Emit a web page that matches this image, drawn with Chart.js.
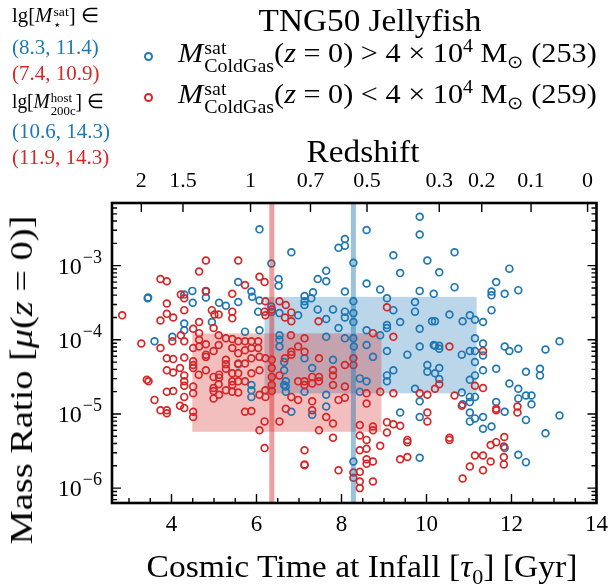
<!DOCTYPE html>
<html>
<head>
<meta charset="utf-8">
<script src="https://cdn.jsdelivr.net/npm/chart.js@4.4.0/dist/chart.umd.min.js"></script>
<style>
  body { margin: 0; background: #fff; }
  #wrap { position: relative; width: 616px; height: 585px; font-family: "Liberation Serif", serif; color: #000; overflow: hidden; }
  #grafico { position: absolute; left: 0; top: 0; }
  .c { position: absolute; white-space: nowrap; line-height: 1; }
  .l { position: absolute; white-space: nowrap; line-height: 1; transform-origin: left center; }
  .ss { display: inline-flex; flex-direction: column; align-items: flex-start; font-size: 0.66em; line-height: 0.95; vertical-align: 0.42em; margin-left: 1px; }
  sup, sub { font-size: 0.66em; line-height: 0; }
  .azul { color: #1f77b4; }
  .verm { color: #d62728; }
  .marca { position: absolute; width: 9px; height: 9px; border-radius: 50%; box-sizing: border-box; border: 2px solid; }
</style>
</head>
<body>
<div id="wrap">
  <canvas id="grafico" width="616" height="585"></canvas>

  <div class="c" style="left:370px; top:20px; font-size:32px; transform: translate(-50%, -50%) scaleX(1.04);">TNG50 Jellyfish</div>

  <div class="marca" style="left:144px; top:52px; border-color:#1f77b4;"></div>
  <div class="l" style="left:178px; top:57px; font-size:28px; transform: translateY(-50%) scaleX(1.08);"><i>M</i><span class="ss"><span>sat</span><span>ColdGas</span></span>(<i>z</i> = 0) &gt; 4 × 10<sup>4</sup> M<sub>⊙</sub> (253)</div>
  <div class="marca" style="left:144px; top:93px; border-color:#d62728;"></div>
  <div class="l" style="left:178px; top:98px; font-size:28px; transform: translateY(-50%) scaleX(1.08);"><i>M</i><span class="ss"><span>sat</span><span>ColdGas</span></span>(<i>z</i> = 0) &lt; 4 × 10<sup>4</sup> M<sub>⊙</sub> (259)</div>

  <div class="l" style="left:12px; top:18px; font-size:20px; transform: translateY(-50%) scaleX(1.04);">lg[<i>M</i><span class="ss"><span>sat</span><span>⋆</span></span>] ∈</div>
  <div class="l azul" style="left:12px; top:47px; font-size:20px; transform: translateY(-50%) scaleX(1.05);">(8.3, 11.4)</div>
  <div class="l verm" style="left:12px; top:73px; font-size:20px; transform: translateY(-50%) scaleX(1.05);">(7.4, 10.9)</div>
  <div class="l" style="left:12px; top:104px; font-size:20px; transform: translateY(-50%) scaleX(0.97);">lg[<i>M</i><span class="ss"><span>host</span><span>200c</span></span>] ∈</div>
  <div class="l azul" style="left:12px; top:131px; font-size:20px; transform: translateY(-50%) scaleX(1.05);">(10.6, 14.3)</div>
  <div class="l verm" style="left:12px; top:157px; font-size:20px; transform: translateY(-50%) scaleX(1.05);">(11.9, 14.3)</div>

  <div class="c" style="left:363px; top:151px; font-size:32px; transform: translate(-50%, -50%) scaleX(1.04);">Redshift</div>
  <div class="c" style="left:362px; top:566px; font-size:32px; transform: translate(-50%, -50%) scaleX(1.05);">Cosmic Time at Infall [<i>τ</i><sub>0</sub>] [Gyr]</div>
  <div class="c" style="left:21px; top:380px; font-size:32px; transform: translate(-50%, -50%) rotate(-90deg) scaleX(1.2);">Mass Ratio [<i>μ</i>(<i>z</i> = 0)]</div>
</div>

<script>
// eixos
const xMin = 2.6, xMax = 14;
const yMin = 6.3e-7, yMax = 7e-3;
const xTickValues = [4, 6, 8, 10, 12, 14];
const yTickValues = [1e-6, 1e-5, 1e-4, 1e-3];
const yTickExponents = ["−6", "−5", "−4", "−3"];
const redshiftLabels = ["2", "1.5", "1", "0.7", "0.5", "0.3", "0.2", "0.1", "0"];
const redshiftTimes = [3.29, 4.27, 5.86, 7.27, 8.6, 10.3, 11.3, 12.46, 13.79];

// [tempo de infall (Gyr), lg(mu)]
const bluePoints = [
  [6.07,-2.51],[6.35,-2.97],[6.52,-3.18],[6.52,-3.27],[5.57,-3.22],[4.49,-3.34],[4.81,-3.35],[4.81,-3.43],
  [3.44,-3.44],[3.45,-3.43],[4.30,-3.39],[4.50,-3.50],[5.12,-3.50],[5.28,-3.54],[5.57,-3.49],[5.88,-3.35],
  [5.90,-3.42],[6.07,-3.47],[6.04,-3.62],[6.35,-3.55],[6.36,-3.62],[6.54,-3.64],[4.30,-3.78],[4.95,-3.76],
  [9.84,-2.34],[8.59,-2.52],[9.84,-2.58],[8.08,-2.64],[7.93,-2.76],[8.08,-2.73],[6.82,-2.82],[9.22,-2.86],
  [10.02,-2.93],[8.28,-2.96],[7.64,-3.07],[7.44,-3.18],[7.64,-3.21],[9.38,-3.10],[8.59,-3.24],[8.91,-3.32],
  [8.08,-3.35],[9.84,-3.34],[10.17,-3.38],[9.07,-3.44],[7.13,-3.41],[7.13,-3.48],[7.13,-3.53],[7.33,-3.36],
  [7.29,-3.44],[8.28,-3.48],[8.28,-3.64],[8.08,-3.62],[7.44,-3.59],[7.80,-3.59],[9.73,-3.49],[9.73,-3.62],
  [9.22,-3.60],[7.64,-3.72],[8.08,-3.70],[8.28,-3.76],[9.07,-3.80],[9.38,-3.76],[10.13,-3.75],[6.98,-3.67],
  [10.66,-2.82],[10.30,-3.09],[11.95,-3.04],[11.64,-3.22],[11.53,-3.35],[11.53,-3.40],[11.84,-3.38],[12.16,-3.33],
  [10.66,-3.29],[11.53,-3.60],[10.54,-3.66],[10.20,-3.75],[10.85,-3.75],[11.02,-3.67],[11.14,-3.73],[11.33,-3.76],
  [3.60,-4.02],[4.02,-3.96],[4.30,-3.87],[5.73,-3.89],[6.07,-3.87],[5.57,-4.33],[5.88,-4.61],[5.88,-4.68],
  [5.88,-4.77],[6.54,-4.00],[6.54,-4.09],[6.54,-3.94],[6.65,-4.30],[6.65,-4.41],[6.65,-4.61],
  [7.93,-3.84],[8.08,-3.98],[8.28,-3.98],[8.29,-4.09],[7.64,-3.96],[8.59,-3.87],[8.59,-4.07],[8.74,-4.23],
  [8.91,-3.94],[9.07,-3.84],[9.07,-4.15],[9.22,-4.41],[9.55,-4.20],[9.84,-3.85],[9.84,-4.09],[10.02,-4.34],
  [10.02,-4.43],[10.17,-4.07],[8.59,-4.56],[8.43,-4.52],[8.43,-4.70],[9.07,-4.48],[9.07,-4.56],[7.80,-4.27],
  [7.31,-4.38],[6.69,-4.56],[6.69,-4.63],[6.69,-4.70],[7.13,-4.70],[7.64,-4.74],[7.64,-4.90],[7.31,-5.01],
  [6.82,-4.97],[9.38,-4.98],[9.84,-5.04],[9.73,-4.66],[9.84,-4.83],[7.13,-4.25],
  [10.20,-4.08],[10.30,-4.08],[10.30,-4.12],[10.83,-4.20],[11.02,-4.15],[11.14,-3.98],[11.14,-4.15],[11.14,-4.30],
  [11.33,-4.05],[11.33,-4.21],[10.20,-4.45],[10.30,-4.38],[10.30,-4.53],[11.02,-4.54],[11.14,-4.48],[11.33,-4.41],
  [10.83,-4.71],[10.85,-4.87],[11.02,-4.77],[11.02,-4.84],[11.14,-4.77],[11.02,-4.98],[11.14,-5.06],[11.33,-5.04],
  [11.02,-5.10],[11.33,-5.20],[11.53,-5.17],[11.64,-4.39],[11.84,-4.09],[11.95,-4.15],[12.16,-4.12],[11.95,-4.59],
  [12.16,-4.66],[12.16,-4.79],[12.34,-4.75],[12.47,-4.75],[12.47,-4.87],[12.34,-5.08],[11.64,-4.84],[11.84,-4.97],
  [12.34,-4.43],[12.67,-4.39],[12.67,-4.48],[12.80,-4.13],[13.13,-4.02],[13.13,-5.02],[12.80,-5.26],
  [9.84,-5.59],[8.28,-5.64],[11.84,-5.46],[12.16,-5.55],[12.34,-5.65]
];

const redPoints = [
  [2.84,-3.67],[3.29,-4.05],[3.42,-4.54],
  [4.81,-2.93],[5.57,-2.93],[4.65,-3.08],[3.74,-3.18],[3.89,-3.21],[6.07,-3.15],[6.19,-3.22],[5.73,-3.26],
  [5.43,-3.38],[4.22,-3.39],[4.30,-3.44],[4.81,-3.34],[3.89,-3.51],[4.30,-3.60],[4.95,-3.60],[5.01,-3.66],
  [3.89,-3.65],[4.04,-3.70],[3.74,-3.74],[4.65,-3.76],[5.43,-3.62],[5.43,-3.71],[6.21,-3.48],[6.36,-3.59],
  [6.19,-3.62],[6.21,-3.67],[6.54,-3.48],[6.69,-3.53],[5.11,-3.66],
  [9.07,-3.56],[6.82,-3.63],[6.67,-3.70],[6.82,-3.75],[7.46,-3.75],
  [3.74,-4.11],[4.02,-4.02],[4.22,-3.94],[4.30,-4.02],[4.51,-3.85],[4.51,-4.11],[4.65,-3.91],[4.65,-4.00],
  [4.65,-4.09],[4.81,-4.06],[4.81,-4.20],[4.81,-4.23],[4.99,-3.84],[4.99,-4.15],[5.11,-3.94],[5.11,-4.07],
  [5.28,-3.98],[5.43,-3.99],[5.43,-4.11],[5.57,-4.02],[5.57,-4.18],[5.73,-4.02],[5.73,-4.14],[5.88,-4.02],
  [5.88,-4.11],[5.88,-4.25],[6.04,-4.02],[6.04,-4.11],[6.07,-4.23],[5.57,-4.32],[5.73,-4.32],
  [3.89,-4.25],[4.04,-4.26],[4.30,-4.24],[4.51,-4.29],[4.51,-4.34],[4.51,-4.38],[4.81,-4.41],[4.64,-4.47],
  [4.99,-4.50],[5.12,-4.47],[5.12,-4.51],[5.28,-4.27],[5.28,-4.33],[5.28,-4.39],[5.43,-4.45],[5.43,-4.56],
  [5.43,-4.61],[5.57,-4.45],[5.57,-4.56],[5.73,-4.56],[5.88,-4.45],[6.07,-4.41],[6.21,-4.25],[6.36,-4.27],
  [6.36,-4.38],[6.36,-4.50],[6.54,-4.48],[6.36,-4.61],[6.36,-4.69],[6.21,-4.68],
  [3.89,-4.41],[4.04,-4.44],[4.20,-4.38],[4.30,-4.48],[4.30,-4.56],[4.30,-4.62],[4.51,-4.63],[4.51,-4.72],
  [3.46,-4.56],[3.89,-4.70],[4.04,-4.69],[4.30,-4.77],[4.99,-4.65],[4.99,-4.69],[4.99,-4.79],[5.11,-4.60],
  [5.12,-4.74],[5.28,-4.68],[5.43,-4.70],[5.57,-4.71],[6.07,-4.74],[6.21,-4.77],
  [3.60,-4.81],[3.74,-4.95],[3.89,-4.95],[3.89,-4.99],[4.20,-4.89],[4.30,-4.92],[4.51,-4.97],[4.51,-5.04],
  [5.73,-4.97],[5.88,-4.96],[6.07,-5.22],[6.19,-5.10],[6.54,-5.10],[6.69,-4.93],
  [6.81,-3.94],[7.13,-3.98],[6.67,-4.25],[6.82,-4.16],[6.82,-4.20],[7.13,-4.16],[7.47,-4.25],[6.98,-4.09],
  [8.74,-3.91],[9.22,-3.96],[8.28,-4.25],[8.28,-4.34],[8.08,-4.34],[7.80,-4.41],[7.80,-4.48],[7.47,-4.50],
  [7.47,-4.56],[7.31,-4.50],[7.31,-4.59],[7.13,-4.56],[7.13,-4.61],[6.98,-4.56],[6.82,-4.77],[6.98,-4.81],
  [7.31,-4.83],[7.31,-4.95],[7.80,-4.61],[8.08,-4.63],[7.93,-4.81],[8.08,-4.78],[8.59,-4.72],[8.59,-4.86],
  [8.91,-4.70],[9.22,-4.72],[7.64,-5.04],[7.80,-5.13],[7.47,-5.22],[7.80,-5.32],[8.43,-5.15],[8.43,-5.29],
  [8.59,-5.35],[8.74,-5.17],[8.74,-5.22],[9.07,-5.11],[9.22,-5.14],[9.38,-5.16],[9.07,-5.25],[9.55,-5.35],
  [9.84,-4.72],[10.02,-4.74],[10.02,-4.98],[10.02,-5.10],
  [10.54,-4.09],[11.33,-4.15],[10.30,-4.60],[10.20,-4.66],[10.66,-4.75],[10.83,-4.89],[11.14,-4.62],[11.33,-4.65],
  [11.64,-4.93],[11.64,-4.95],[12.14,-4.90],[12.14,-4.98],[10.54,-5.32],[10.54,-5.35],[11.83,-5.31],
  [6.19,-5.46],[7.13,-5.49],[7.13,-5.68],[7.13,-5.69],[7.93,-5.76],[8.28,-5.79],[8.28,-5.86],[8.43,-5.49],
  [8.43,-5.78],[8.43,-5.91],[8.43,-6.00],[8.59,-5.47],[8.59,-5.61],[8.59,-5.67],[8.74,-5.64],[8.74,-5.91],
  [8.91,-5.43],[9.38,-5.61],[9.55,-5.38],[9.55,-5.58],
  [11.64,-5.38],[11.51,-5.42],[11.82,-5.44],[11.14,-5.56],[11.33,-5.56],[11.51,-5.64],[11.82,-5.58],[11.82,-5.68],
  [11.02,-5.71],[11.33,-5.76],[10.85,-5.87]
];

// quartis (caixas) e medianas
const blueBoxTime = [6.19, 11.18];
const blueBoxMu = [1.9e-5, 3.8e-4];
const redBoxTime = [4.49, 8.94];
const redBoxMu = [5.75e-6, 1.22e-4];
const blueMedianTime = 8.28;
const redMedianTime = 6.36;

const AZUL = "#1f77b4";
const VERMELHO = "#d62728";
const FONTE = "'Liberation Serif', serif";

function paraPontos(lista) {
  return lista.map(([t, lg]) => ({ x: t, y: Math.pow(10, lg) }));
}

// caixas sombreadas atras dos pontos
const caixasPlugin = {
  id: "caixas",
  beforeDatasetsDraw(chart) {
    const { ctx, chartArea: a, scales } = chart;
    const caixas = [
      [blueBoxTime, blueBoxMu, "rgba(31,119,180,0.3)"],
      [redBoxTime, redBoxMu, "rgba(214,39,40,0.3)"]
    ];
    ctx.save();
    ctx.beginPath();
    ctx.rect(a.left, a.top, a.right - a.left, a.bottom - a.top);
    ctx.clip();
    caixas.forEach(([t, mu, cor]) => {
      const x0 = scales.x.getPixelForValue(t[0]);
      const x1 = scales.x.getPixelForValue(t[1]);
      const y0 = scales.y.getPixelForValue(mu[1]);
      const y1 = scales.y.getPixelForValue(mu[0]);
      ctx.fillStyle = cor;
      ctx.fillRect(x0, y0, x1 - x0, y1 - y0);
    });
    ctx.restore();
  }
};

// ticks para dentro, moldura e rotulos 10^n do eixo y
const molduraPlugin = {
  id: "moldura",
  afterDraw(chart) {
    const { ctx, chartArea: a, scales } = chart;
    ctx.save();
    ctx.strokeStyle = "#000";
    ctx.lineWidth = 1.4;
    ctx.beginPath();
    for (let v = 3; v <= xMax; v += 0.5) {
      const px = scales.x.getPixelForValue(v);
      const len = v % 2 === 0 ? 9 : 5;
      ctx.moveTo(px, a.bottom);
      ctx.lineTo(px, a.bottom - len);
    }
    for (let e = -7; e <= -3; e++) {
      for (let m = 1; m <= 9; m++) {
        const v = m * Math.pow(10, e);
        if (v < yMin || v > yMax) continue;
        const py = scales.y.getPixelForValue(v);
        const len = m === 1 ? 9 : 5;
        ctx.moveTo(a.left, py);
        ctx.lineTo(a.left + len, py);
        ctx.moveTo(a.right, py);
        ctx.lineTo(a.right - len, py);
      }
    }
    redshiftTimes.forEach((t) => {
      const px = scales.x2.getPixelForValue(t);
      ctx.moveTo(px, a.top);
      ctx.lineTo(px, a.top + 9);
    });
    ctx.stroke();
    ctx.lineWidth = 2.6;
    ctx.strokeRect(a.left, a.top, a.right - a.left, a.bottom - a.top);

    ctx.fillStyle = "#000";
    ctx.textAlign = "right";
    ctx.textBaseline = "alphabetic";
    yTickValues.forEach((v, i) => {
      const py = scales.y.getPixelForValue(v);
      const xDir = a.left - 10;
      ctx.font = "18px " + FONTE;
      const wExp = ctx.measureText(yTickExponents[i]).width;
      ctx.fillText(yTickExponents[i], xDir, py - 3);
      ctx.font = "24px " + FONTE;
      ctx.fillText("10", xDir - wExp - 1, py + 8);
    });
    ctx.restore();
  }
};

const ctx = document.getElementById("grafico").getContext("2d");

new Chart(ctx, {
  type: "scatter",
  data: {
    datasets: [
      {
        label: "mediana azul",
        data: [{ x: blueMedianTime, y: yMin }, { x: blueMedianTime, y: yMax }],
        showLine: true,
        borderColor: "rgba(31,119,180,0.45)",
        borderWidth: 5,
        pointRadius: 0,
        order: 0
      },
      {
        label: "mediana vermelha",
        data: [{ x: redMedianTime, y: yMin }, { x: redMedianTime, y: yMax }],
        showLine: true,
        borderColor: "rgba(214,39,40,0.45)",
        borderWidth: 5,
        pointRadius: 0,
        order: 0
      },
      {
        label: "ColdGas > 4e4",
        data: paraPontos(bluePoints),
        borderColor: AZUL,
        backgroundColor: "rgba(0,0,0,0)",
        borderWidth: 1.7,
        pointRadius: 3.4,
        order: 2
      },
      {
        label: "ColdGas < 4e4",
        data: paraPontos(redPoints),
        borderColor: VERMELHO,
        backgroundColor: "rgba(0,0,0,0)",
        borderWidth: 1.7,
        pointRadius: 3.4,
        order: 1
      }
    ]
  },
  options: {
    responsive: false,
    animation: false,
    layout: { padding: { left: 0, right: 12, top: 0, bottom: 0 } },
    plugins: {
      legend: { display: false },
      tooltip: { enabled: false }
    },
    scales: {
      x: {
        type: "linear",
        position: "bottom",
        min: xMin,
        max: xMax,
        afterBuildTicks: (s) => { s.ticks = xTickValues.map((v) => ({ value: v })); },
        afterFit: (s) => { s.height = 82; },
        grid: { display: false, drawTicks: false },
        border: { display: false },
        ticks: { font: { family: FONTE, size: 23 }, color: "#000", padding: 8, maxRotation: 0, autoSkip: false }
      },
      x2: {
        type: "linear",
        position: "top",
        min: xMin,
        max: xMax,
        afterBuildTicks: (s) => { s.ticks = redshiftTimes.map((v) => ({ value: v })); },
        afterFit: (s) => { s.height = 203; },
        grid: { display: false, drawTicks: false },
        border: { display: false },
        ticks: {
          callback: (v, i) => redshiftLabels[i],
          font: { family: FONTE, size: 22 },
          color: "#000",
          padding: 9,
          maxRotation: 0,
          autoSkip: false
        }
      },
      y: {
        type: "logarithmic",
        min: yMin,
        max: yMax,
        afterBuildTicks: (s) => { s.ticks = yTickValues.map((v) => ({ value: v })); },
        afterFit: (s) => { s.width = 112; },
        grid: { display: false, drawTicks: false },
        border: { display: false },
        ticks: { display: false }
      }
    }
  },
  plugins: [caixasPlugin, molduraPlugin]
});
</script>
</body>
</html>
